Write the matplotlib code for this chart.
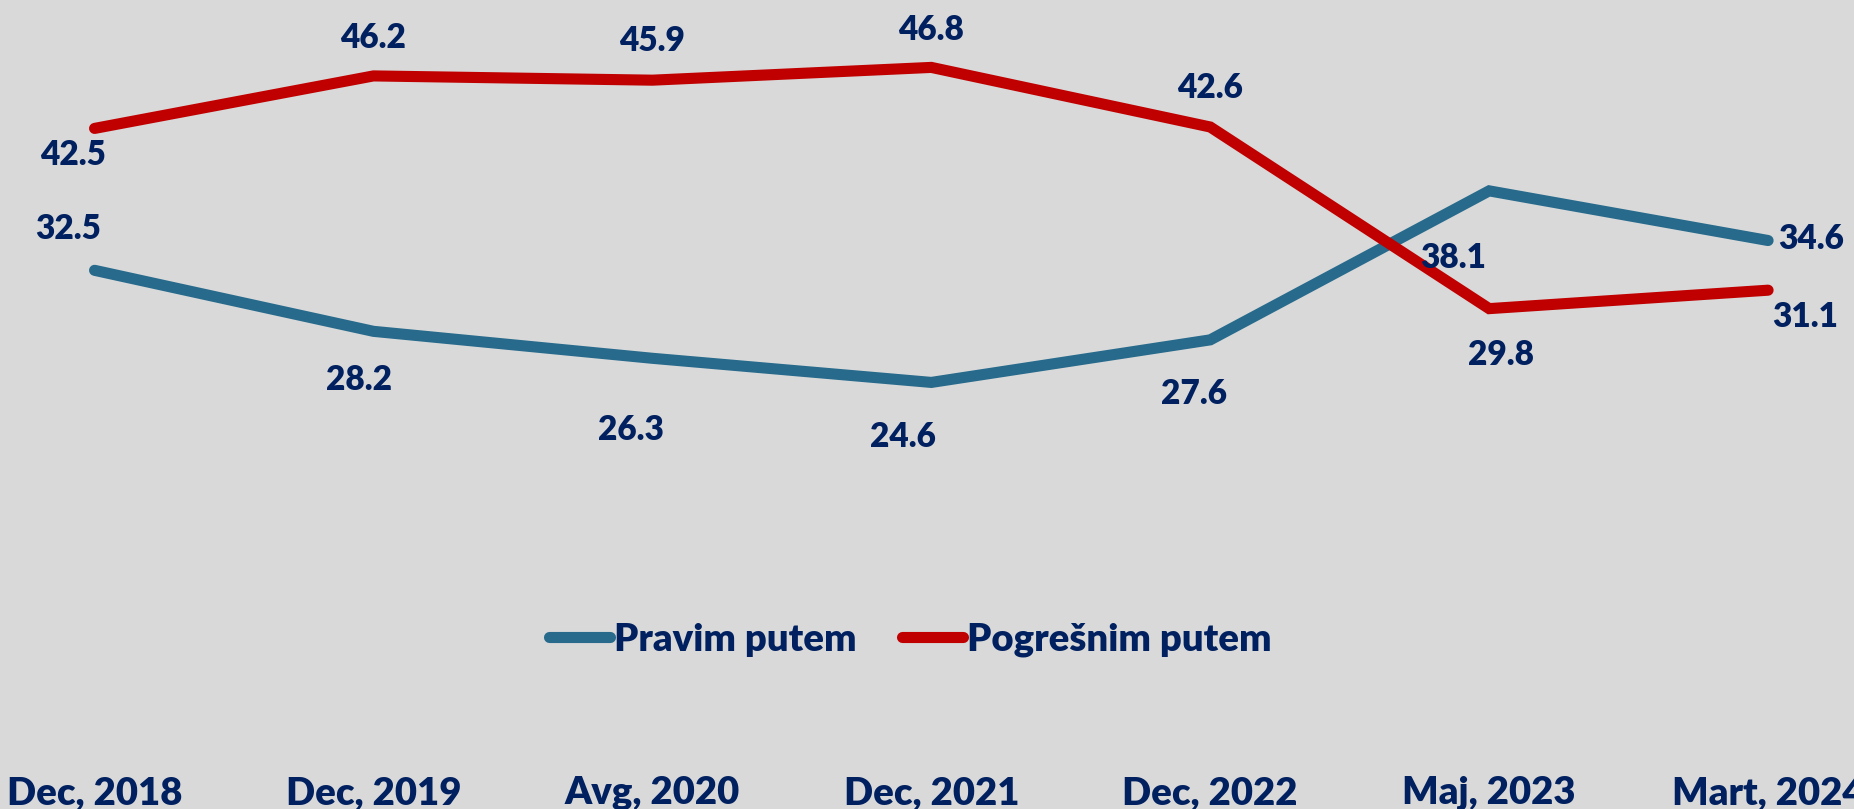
import matplotlib
matplotlib.use("Agg")
import matplotlib.pyplot as plt
from matplotlib.lines import Line2D

categories = ["Dec, 2018", "Dec, 2019", "Avg, 2020", "Dec, 2021", "Dec, 2022", "Maj, 2023", "Mart, 2024"]
pravim = [32.5, 28.2, 26.3, 24.6, 27.6, 38.1, 34.6]
pogresnim = [42.5, 46.2, 45.9, 46.8, 42.6, 29.8, 31.1]
series_names = ["Pravim putem", "Pogrešnim putem"]

# label offsets in pixels (dx, dy)
off_pravim = [(-26, 41), (-14, -49), (-21, -72), (-28, -55), (-16, -54), (-36, -67), (43, 2)]
off_pogr = [(-22, -27), (0, 38), (0, 39), (0, 37), (0, 39), (12, -46), (37, -27)]

BG = "#D9D9D9"
BLUE = "#276A8C"
RED = "#C00000"
NAVY = "#002060"
FONT = ["Lato", "DejaVu Sans"]

DPI = 100
fig = plt.figure(figsize=(18.54, 8.09), dpi=DPI, facecolor=BG)
ax = fig.add_axes([0, 0.0958, 1, 0.9042])
ax.set_facecolor(BG)
x = list(range(len(categories)))
ax.plot(x, pravim, color=BLUE, lw=8, solid_capstyle="round", solid_joinstyle="miter")
ax.plot(x, pogresnim, color=RED, lw=8, solid_capstyle="round", solid_joinstyle="miter")
ax.set_xlim(-0.339, 6.308)
ax.set_ylim(0, 51.55)
ax.axis("off")

px = 72 / DPI
for vals, offs in ((pravim, off_pravim), (pogresnim, off_pogr)):
    for i, (v, (dx, dy)) in enumerate(zip(vals, offs)):
        ax.annotate(f"{v:.1f}", (i, v), xytext=(dx * px, dy * px), textcoords="offset points",
                    ha="center", va="center", fontsize=24, fontweight="heavy",
                    color=NAVY, family=FONT)

for i, c in enumerate(categories):
    ax.annotate(c, (i, 0), xycoords=("data", "figure fraction"), xytext=(0, 16 * px),
                textcoords="offset points", ha="center", va="center",
                fontsize=27.5, fontweight="heavy", color=NAVY, family=FONT,
                annotation_clip=False)

handles = [Line2D([], [], color=BLUE, lw=8, solid_capstyle="round"),
           Line2D([], [], color=RED, lw=8, solid_capstyle="round")]
leg = fig.legend(handles, series_names, loc="center", bbox_to_anchor=(0.491, 1 - 640 / 809),
                 ncol=2, frameon=False, handlelength=1.6, handletextpad=0.1,
                 columnspacing=1.2, prop={"family": FONT, "weight": "heavy", "size": 27.5})
for t in leg.get_texts():
    t.set_color(NAVY)

fig.savefig("out.png", dpi=DPI, facecolor=BG)
